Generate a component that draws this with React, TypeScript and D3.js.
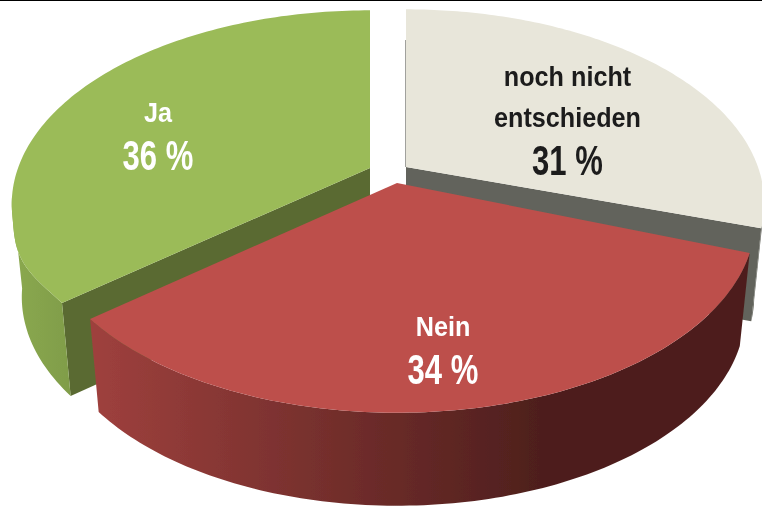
import React from "react";
import * as d3 from "d3";

const labels = [["noch nicht", "entschieden"], ["Nein"], ["Ja"]];
const percentages = ["31 %", "34 %", "36 %"];
const values = [31, 34, 36];
const topColors = ["#e8e6da", "#bd4f4c", "#9bbb59"];
const innerColors = ["#62635b", "#000000", "#5a6b30"];
const wallFrom = ["#62635b", "#9e403d", "#8aa84f"];
const wallTo = ["#62635b", "#4e1f1d", "#7f9c49"];
const textColors = ["#1a1a1a", "#ffffff", "#ffffff"];
const apexX = [406, 397, 370];
const apexY = [167, 183, 168];
const startTrim = [0, 0, -1.2];
const endTrim = [2.5, 1.5, 0];
const rimBulge = [0, 0, 0.012];
const wallMinDeg = [101, 0, 0];
const wallMaxDeg = [360, 360, 262];
const drawOrder = [0, 2, 1];
const labelX = [567.5, 443, 158];
const labelY = [86, 336, 122];

const R = 352;
const RK = 187;
const PERSP = 0.186;
const DEPTH = 93;
const SHRINK = 0.028;

function project(i: number, a: number, r: number, h: number): [number, number] {
  const u = Math.sin(a) * r;
  const v = -Math.cos(a) * r;
  const p = 1 / (1 - PERSP * v);
  return [apexX[i] + R * u * p * (1 - SHRINK * h), apexY[i] + RK * v * p + DEPTH * h];
}

const line = d3.line<[number, number]>();
const pie = d3.pie<number>().sort(null).startAngle(0).endAngle(2 * Math.PI);
const arcs = pie(values);
const degToRad = d3.scaleLinear().domain([0, 180]).range([0, Math.PI]);

function bulge(i: number, a: number, a0: number): number {
  const t = (a - a0) / degToRad(26);
  return t > 0 && t < 1 ? 1 + rimBulge[i] * Math.sin(Math.PI * t) ** 2 : 1;
}

export default function App() {
  const slices = arcs.map((arc, i) => {
    const a0 = arc.startAngle + degToRad(startTrim[i]);
    const a1 = arc.endAngle - degToRad(endTrim[i]);
    const angles = d3.range(0, 121).map((k) => a0 + ((a1 - a0) * k) / 120);
    const rim0 = angles.map((a) => project(i, a, bulge(i, a, a0), 0));
    const visible = angles.filter((a) => a >= degToRad(wallMinDeg[i]) && a <= degToRad(wallMaxDeg[i]));
    const wallTop = visible.map((a) => project(i, a, bulge(i, a, a0), 0));
    const wallBottom = visible.map((a) => project(i, a, 1, 1));
    const apex0 = project(i, 0, 0, 0);
    const apex1 = project(i, 0, 0, 1);
    const top = line([apex0, ...rim0]) + "Z";
    const outer = line([...wallTop, ...wallBottom.slice().reverse()]) + "Z";
    const innerEnd = line([apex0, project(i, a1, 1, 0), project(i, a1, 1, 1), apex1]) + "Z";
    const innerStart = line([apex0, project(i, a0, 1, 0), project(i, a0, 1, 1), apex1]) + "Z";
    return { i, top, outer, innerEnd, innerStart };
  });

  return (
    <svg
      width={762}
      height={508}
      style={{ position: "absolute", left: 0, top: 0, background: "#fff" }}
      fontFamily="'Liberation Sans', Arial, sans-serif"
    >
      <defs>
        <filter id="soft" x="-5%" y="-5%" width="110%" height="110%">
          <feGaussianBlur stdDeviation="0.45" />
        </filter>
        {wallFrom.map((c, i) => (
          <linearGradient
            key={i}
            id={`wall${i}`}
            gradientUnits="userSpaceOnUse"
            x1={i === 1 ? 95 : 15}
            x2={i === 1 ? 540 : 75}
            y1={0}
            y2={0}
          >
            <stop offset="0" stopColor={c} />
            <stop offset="1" stopColor={wallTo[i]} />
          </linearGradient>
        ))}
      </defs>
      <g filter="url(#soft)">
        {drawOrder.map((i) => {
          const s = slices[i];
          return (
            <g key={i}>
              {i === 0 && <path d={s.outer} fill={`url(#wall${i})`} />}
              {i === 0 && <path d={s.innerEnd} fill={innerColors[i]} />}
              {i === 2 && <path d={s.innerStart} fill={innerColors[i]} />}
              {i !== 0 && <path d={s.outer} fill={`url(#wall${i})`} />}
              <path d={s.top} fill={topColors[i]} />
            </g>
          );
        })}
        <line x1={405.5} x2={405.5} y1={40} y2={167} stroke="#62635b" strokeOpacity={0.6} />
        {labels.map((lines, i) => (
          <g key={i} fill={textColors[i]} textAnchor="middle" fontWeight="bold">
            {lines.map((t, j) => (
              <text
                key={j}
                transform={`translate(${labelX[i]},${labelY[i] + j * 41}) scale(0.9,1)`}
                fontSize={28}
              >
                {t}
              </text>
            ))}
            <text
              transform={`translate(${labelX[i]},${labelY[i] + (lines.length - 1) * 41 + 47.5}) scale(0.74,1)`}
              fontSize={42}
            >
              {percentages[i]}
            </text>
          </g>
        ))}
      </g>
      <line x1={0} x2={762} y1={0.5} y2={0.5} stroke="#000" strokeWidth={1} />
    </svg>
  );
}
